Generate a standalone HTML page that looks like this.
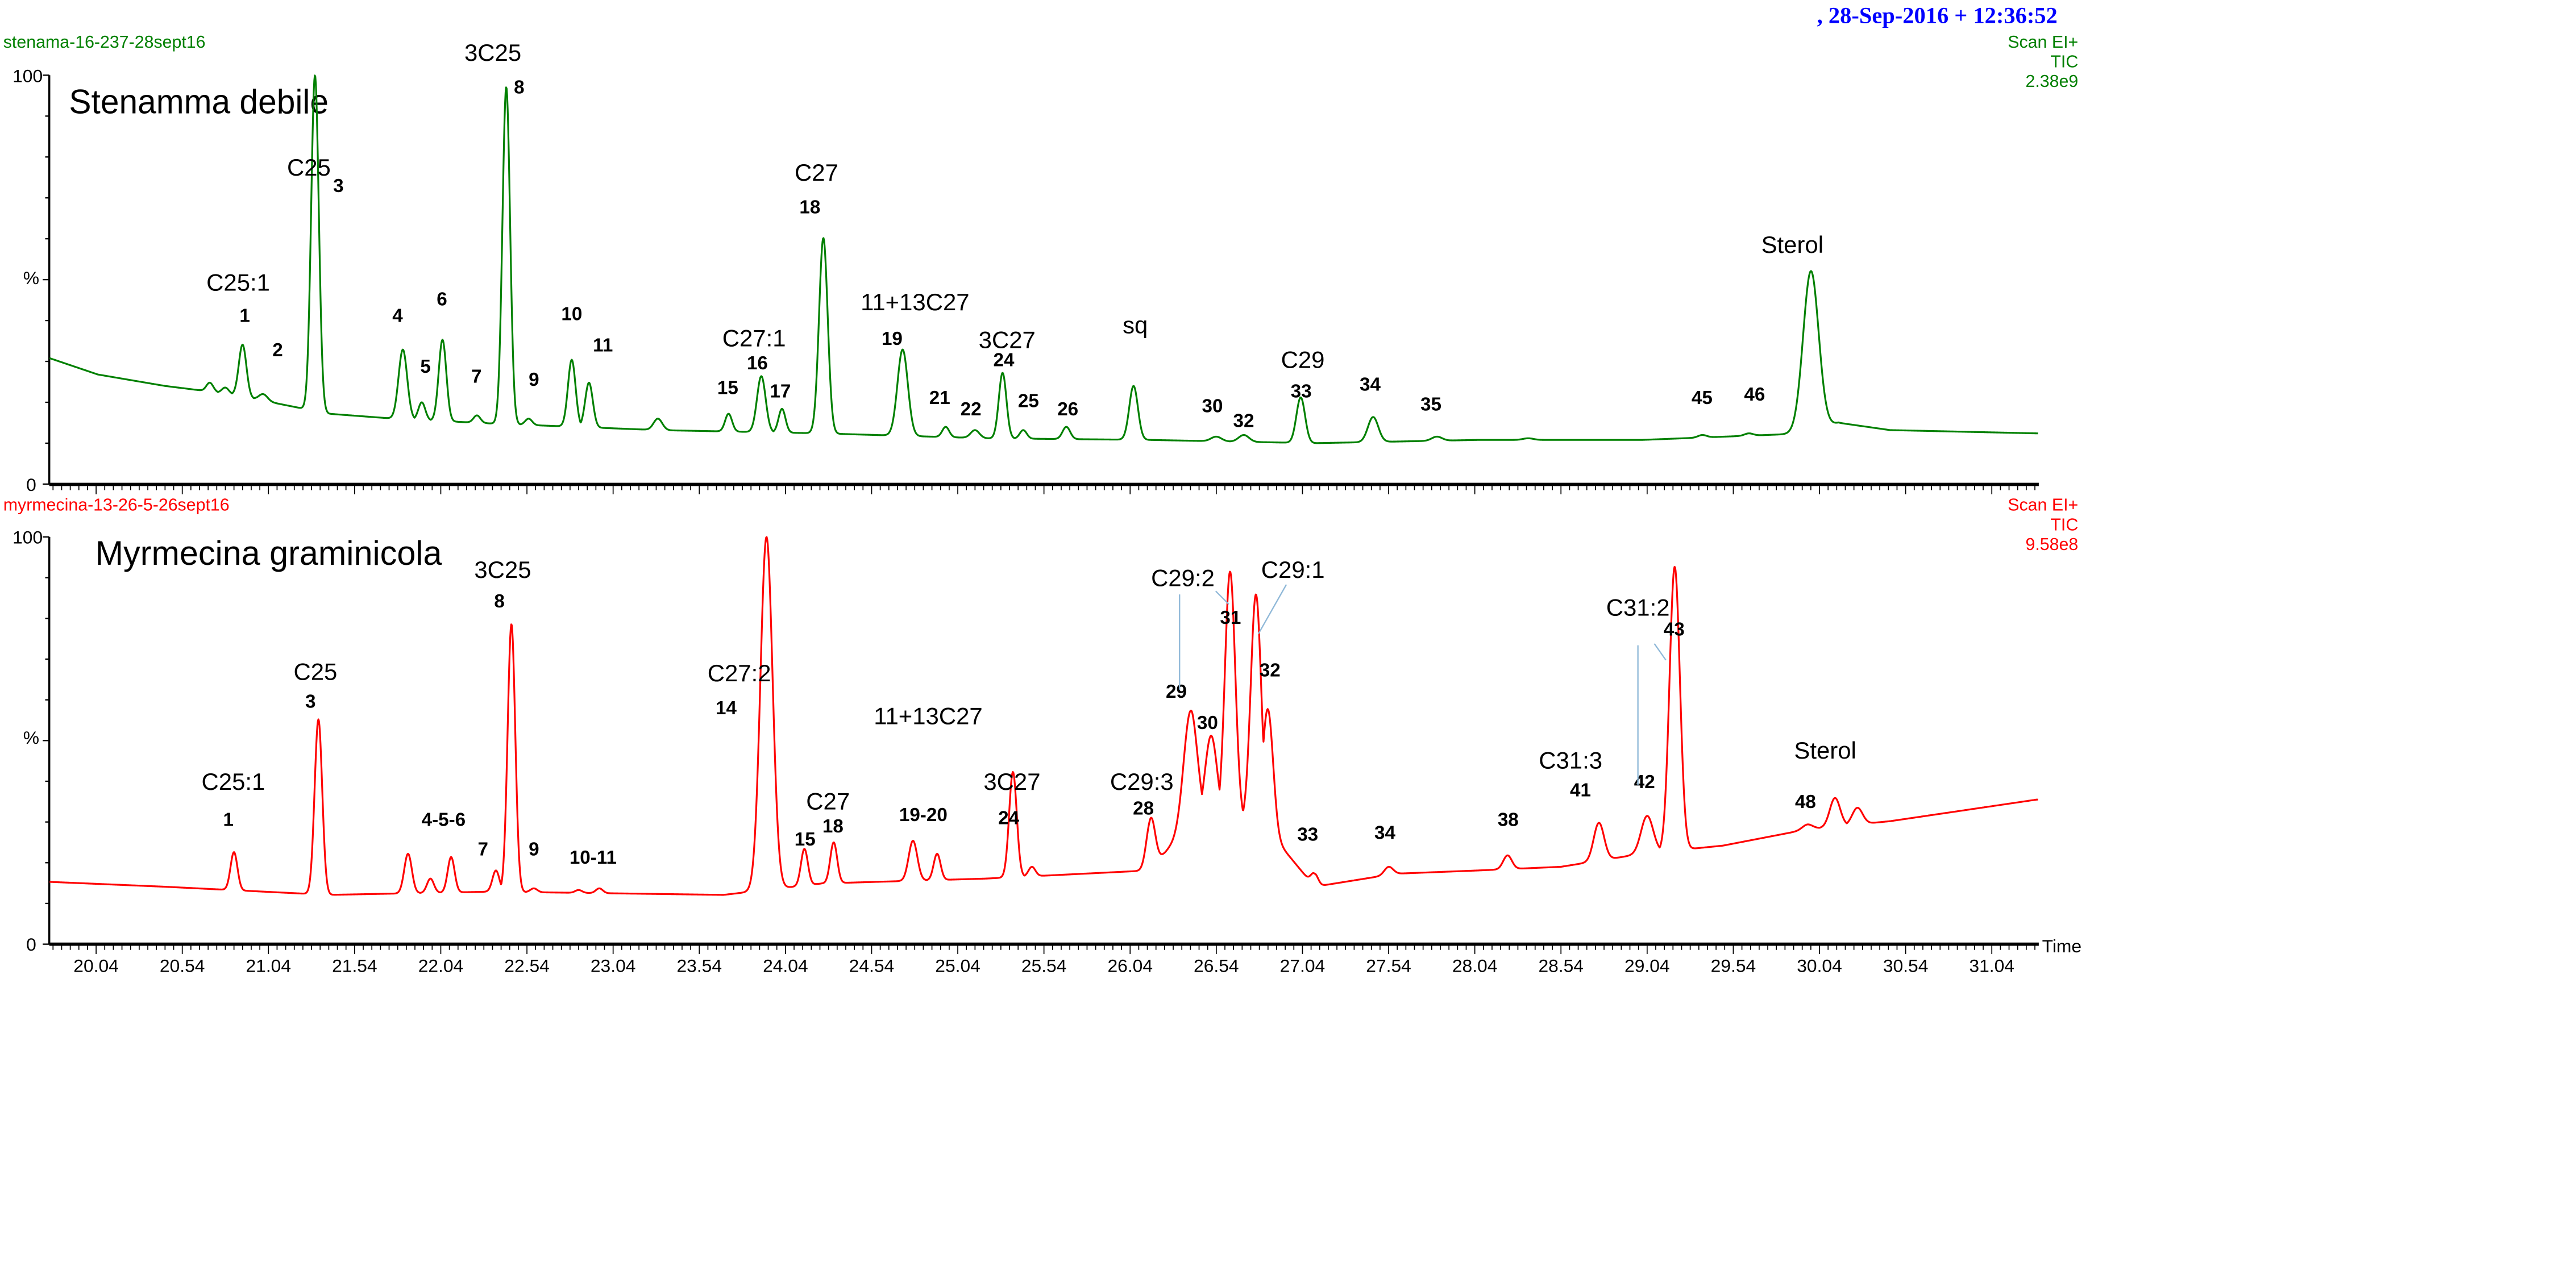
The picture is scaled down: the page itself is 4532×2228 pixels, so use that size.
<!DOCTYPE html>
<html><head><meta charset="utf-8"><style>
html,body{margin:0;padding:0;background:#fff;width:4532px;height:2228px;overflow:hidden}
svg{display:block}
text{font-family:"Liberation Sans",sans-serif}
.hdr{font-size:10.5px}
.num{font-size:11.5px;font-weight:bold}
.cmp{font-size:14.5px}
.tick{font-size:11px}
</style></head><body>
<svg id="chart" width="4532" height="2228" viewBox="0 0 1568 771" preserveAspectRatio="none" xmlns="http://www.w3.org/2000/svg">
<text x="1106" y="14" style="font-family:'Liberation Serif',serif;font-weight:bold;font-size:14px;fill:#0000ff">,  28-Sep-2016 + 12:36:52</text>
<g id="top">
<text class="hdr" x="2" y="29" fill="#008000">stenama-16-237-28sept16</text>
<text class="hdr" x="1265" y="29" fill="#008000" text-anchor="end">Scan EI+</text>
<text class="hdr" x="1265" y="41" fill="#008000" text-anchor="end">TIC</text>
<text class="hdr" x="1265" y="53" fill="#008000" text-anchor="end">2.38e9</text>
<text x="42" y="69" textLength="158" lengthAdjust="spacingAndGlyphs" style="font-size:21px">Stenamma debile</text>
<text class="tick" x="26" y="50" text-anchor="end">100</text>
<text class="tick" x="19" y="173" text-anchor="middle">%</text>
<text class="tick" x="19" y="299" text-anchor="middle">0</text>
</g>
<g id="bot">
<text class="hdr" x="2" y="311" fill="#ff0000">myrmecina-13-26-5-26sept16</text>
<text class="hdr" x="1265" y="311" fill="#ff0000" text-anchor="end">Scan EI+</text>
<text class="hdr" x="1265" y="323" fill="#ff0000" text-anchor="end">TIC</text>
<text class="hdr" x="1265" y="335" fill="#ff0000" text-anchor="end">9.58e8</text>
<text x="58" y="344" textLength="211" lengthAdjust="spacingAndGlyphs" style="font-size:21px">Myrmecina graminicola</text>
<text class="tick" x="26" y="331" text-anchor="end">100</text>
<text class="tick" x="19" y="453" text-anchor="middle">%</text>
<text class="tick" x="19" y="579" text-anchor="middle">0</text>
<text class="tick" x="1243" y="580">Time</text>
</g>
</svg>
<script>
// ---- data ----
const topPeakTimes=[20.70,20.79,20.89,21.01,21.31,21.82,21.93,22.05,22.25,22.42,22.55,22.80,22.90,23.30,23.71,23.90,24.02,24.26,24.72,24.97,25.14,25.30,25.42,25.67,26.06,26.54,26.70,27.03,27.45,27.82,28.35,29.36,29.63,29.99];
const topPeakApex=[24.8,23.6,34.1,22.0,100,32.9,20.0,35.3,16.8,97.1,16.0,30.4,24.8,16.0,17.2,26.4,18.4,60.2,32.9,14.0,13.2,27.2,13.2,14.0,24.0,11.6,12.0,21.2,16.4,11.6,11.2,12.0,12.4,52.1];
const topPeakWidths=[0.02,0.02,0.022,0.025,0.022,0.025,0.02,0.022,0.02,0.022,0.02,0.022,0.022,0.025,0.02,0.025,0.02,0.025,0.03,0.02,0.025,0.022,0.02,0.022,0.025,0.03,0.03,0.025,0.03,0.03,0.03,0.025,0.025,0.045];
const topBaseTimes=[19.77,20.05,20.44,20.82,21.20,21.39,21.77,22.34,23.30,24.25,25.20,26.15,27.11,28.06,29.01,29.97,30.15,30.45,31.30];
const topBaseVals=[30.8,26.8,24.0,22.0,18.8,17.2,16.0,14.8,13.2,12.4,11.2,10.8,10.0,10.8,10.8,12.4,15.0,13.2,12.4];

const botPeakTimes=[20.84,21.33,21.85,21.98,22.10,22.36,22.45,22.58,22.84,22.96,23.30,23.93,24.15,24.32,24.78,24.92,25.36,25.47,25.85,25.97,26.16,26.39,26.51,26.62,26.77,26.84,27.11,27.54,28.23,28.76,29.04,29.20,29.97,30.13,30.26];
const botPeakApex=[22.6,55.2,22.2,16.1,21.4,18.1,78.6,13.7,13.3,13.7,12.1,100,23.4,25.0,25.4,22.2,42.3,19.0,17.3,15.3,31.0,57.3,51.2,91.5,85.9,57.7,17.3,19.0,21.8,29.8,31.5,92.7,29.4,35.9,33.5];
const botPeakWidths=[0.02,0.022,0.022,0.02,0.02,0.02,0.022,0.02,0.02,0.02,0.025,0.035,0.02,0.02,0.025,0.02,0.022,0.02,0.025,0.02,0.025,0.04,0.035,0.03,0.03,0.03,0.02,0.025,0.025,0.03,0.035,0.03,0.03,0.03,0.03];
const botBaseTimes=[19.77,20.44,21.39,22.34,23.68,24.25,25.20,26.15,26.40,26.80,27.11,27.58,28.06,28.54,29.01,29.48,29.97,30.45,31.30];
const botBaseVals=[15.3,14.1,12.1,12.9,12.1,14.9,16.1,18.1,30.0,30.0,14.1,17.3,18.1,19.0,22.2,24.2,28.2,30.2,35.5];

const xTickLabels=["20.04","20.54","21.04","21.54","22.04","22.54","23.04","23.54","24.04","24.54","25.04","25.54","26.04","26.54","27.04","27.54","28.04","28.54","29.04","29.54","30.04","30.54","31.04"];

// ---- axes ----
const T0=19.77,T1=31.31,X0=30,X1=1241;
const xs=t=>58.5+(t-20.04)*104.9;
const yTop=p=>294.8-p*2.49;
const yBot=p=>575-p*2.48;
const NS="http://www.w3.org/2000/svg";
const svg=document.getElementById('chart');
function mk(tag,attrs,parent){const e=document.createElementNS(NS,tag);for(const k in attrs)e.setAttribute(k,attrs[k]);(parent||svg).appendChild(e);return e;}
function interp(ts,vs,t){if(t<=ts[0])return vs[0];for(let i=1;i<ts.length;i++){if(t<=ts[i]){const f=(t-ts[i-1])/(ts[i]-ts[i-1]);return vs[i-1]+f*(vs[i]-vs[i-1]);}}return vs[vs.length-1];}
function trace(pt,pa,pw,bt,bv,ys){
  let d="";
  for(let t=T0;t<=T1;t+=0.003){
    const b=interp(bt,bv,t);let v=b,sum=0;
    for(let i=0;i<pt.length;i++){const a=pa[i]-interp(bt,bv,pt[i]);const g=a*Math.exp(-0.5*Math.pow((t-pt[i])/pw[i],2));sum+=g*0.25;v=Math.max(v,b+g);}
    v=Math.min(Math.max(v,b+sum),100.5);
    d+=(d?"L":"M")+xs(t).toFixed(2)+","+ys(v).toFixed(2);
  }
  return d;
}
function yAxis(yf,g,name){
  const ax=mk('line',{x1:X0,y1:yf(100),x2:X0,y2:yf(0),stroke:'#000','stroke-width':1.2},g);
  
  
  for(let p=0;p<=100;p+=10){
    const tk=mk('line',{x1:X0-(p%50==0?4:2.5),y1:yf(p),x2:X0,y2:yf(p),stroke:'#000','stroke-width':0.8},g);
    
    
  }
}
function xTicks(y,g,labels,w){
  const base=mk('line',{x1:X0,y1:y,x2:X1,y2:y,stroke:'#000','stroke-width':w},g);
  
  
  for(let t=19.79;t<=T1;t+=0.05){
    const k=Math.round((t-20.04)/0.05);const major=(k%10===0);
    const tk=mk('line',{x1:xs(t),y1:y+1,x2:xs(t),y2:y+(major?6:3.5),stroke:'#000','stroke-width':0.6},g);
    
    
  }
  if(labels){xTickLabels.forEach((s,i)=>{
    const tx=mk('text',{x:xs(parseFloat(s)),y:y+17,'text-anchor':'middle','class':'tick'},g);
    tx.textContent=s;
    
    
  });}
}
const gTop=document.getElementById('top'),gBot=document.getElementById('bot');
yAxis(yTop,gTop,'top-y-axis');yAxis(yBot,gBot,'bottom-y-axis');
xTicks(295,gTop,false,2);xTicks(575,gBot,true,2);
const pTop=mk('path',{d:trace(topPeakTimes,topPeakApex,topPeakWidths,topBaseTimes,topBaseVals,yTop),fill:'none',stroke:'#008000','stroke-width':1.1,'stroke-linejoin':'round'},gTop);


const pBot=mk('path',{d:trace(botPeakTimes,botPeakApex,botPeakWidths,botBaseTimes,botBaseVals,yBot),fill:'none',stroke:'#ff0000','stroke-width':1.1,'stroke-linejoin':'round'},gBot);



// ---- annotations ----
const topLabels=[["3C25",300,37,"cmp"],["8",316,57,"num"],["C25",188,107,"cmp"],["3",206,117,"num"],["C25:1",145,177,"cmp"],["1",149,196,"num"],["2",169,217,"num"],["4",242,196,"num"],["6",269,186,"num"],["5",259,227,"num"],["7",290,233,"num"],["9",325,235,"num"],["10",348,195,"num"],["11",367,214,"num"],["C27",497,110,"cmp"],["18",493,130,"num"],["C27:1",459,211,"cmp"],["16",461,225,"num"],["15",443,240,"num"],["17",475,242,"num"],["11+13C27",557,189,"cmp"],["19",543,210,"num"],["21",572,246,"num"],["22",591,253,"num"],["3C27",613,212,"cmp"],["24",611,223,"num"],["25",626,248,"num"],["26",650,253,"num"],["sq",691,203,"cmp"],["30",738,251,"num"],["32",757,260,"num"],["C29",793,224,"cmp"],["33",792,242,"num"],["34",834,238,"num"],["35",871,250,"num"],["45",1036,246,"num"],["46",1068,244,"num"],["Sterol",1091,154,"cmp"]];
const botLabels=[["C25:1",142,481,"cmp"],["1",139,503,"num"],["C25",192,414,"cmp"],["3",189,431,"num"],["4-5-6",270,503,"num"],["7",294,521,"num"],["3C25",306,352,"cmp"],["8",304,370,"num"],["9",325,521,"num"],["10-11",361,526,"num"],["C27:2",450,415,"cmp"],["14",442,435,"num"],["15",490,515,"num"],["C27",504,493,"cmp"],["18",507,507,"num"],["11+13C27",565,441,"cmp"],["19-20",562,500,"num"],["3C27",616,481,"cmp"],["24",614,502,"num"],["C29:3",695,481,"cmp"],["28",696,496,"num"],["C29:2",720,357,"cmp"],["29",716,425,"num"],["30",735,444,"num"],["31",749,380,"num"],["C29:1",787,352,"cmp"],["32",773,412,"num"],["33",796,512,"num"],["34",843,511,"num"],["38",918,503,"num"],["C31:3",956,468,"cmp"],["41",962,485,"num"],["42",1001,480,"num"],["C31:2",997,375,"cmp"],["43",1019,387,"num"],["Sterol",1111,462,"cmp"],["48",1099,492,"num"]];
function labels(arr,g){arr.forEach(a=>{
  const t=mk('text',{x:a[1],y:a[2],'text-anchor':'middle','class':a[3]},g);
  t.textContent=a[0];
  
  
});}
labels(topLabels,gTop);labels(botLabels,gBot);
[[718,362,718,420],[740,360,748,368],[783,356,766,386],[997,393,997,478],[1007,392,1014,402]].forEach(l=>{
  const ln=mk('line',{x1:l[0],y1:l[1],x2:l[2],y2:l[3],stroke:'#8fb8d8','stroke-width':0.8},gBot);
  
  
});
</script>
</body></html>
